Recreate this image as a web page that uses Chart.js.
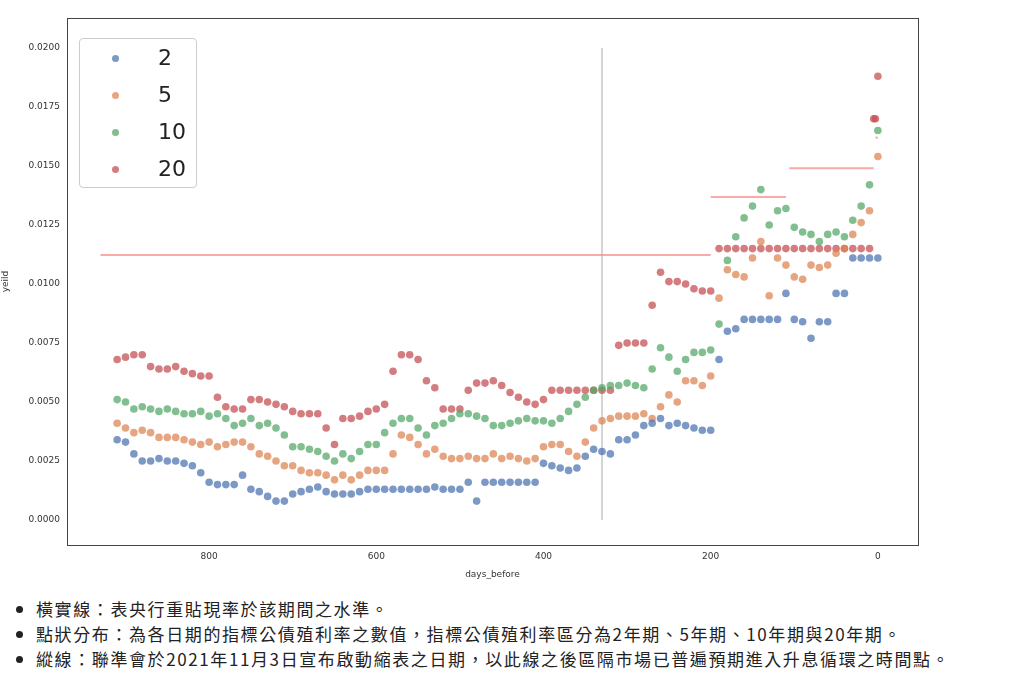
<!DOCTYPE html>
<html>
<head>
<meta charset="utf-8">
<script src="https://cdn.jsdelivr.net/npm/chart.js@4.4.0/dist/chart.umd.min.js"></script>
<style>
  body { margin: 0; background: #fff; font-family: "Noto Sans CJK TC", "Noto Sans", sans-serif; }
  #wrap { position: relative; width: 1024px; height: 580px; }
  #legend { position: absolute; left: 79px; top: 38px; width: 116px; height: 148px; border: 1px solid #ccc; border-radius: 4px; background: #fff; font-family: "DejaVu Sans", sans-serif; font-size: 22px; color: #222; }
  #legend div { height: 36px; line-height: 36px; padding-left: 30px; position: relative; margin-top: 1px; }
  #legend span { position: absolute; left: 32px; top: 15px; width: 7px; height: 7px; border-radius: 50%; }
  #legend b { font-weight: normal; margin-left: 48px; }
  ul { margin: 16px 0 0 0; padding-left: 36px; font-size: 17px; letter-spacing: 1.6px; color: #222; line-height: 25px; }
</style>
</head>
<body>
<div id="wrap">
  <canvas id="c" width="1024" height="580"></canvas>
  <div id="legend"></div>
</div>
<ul>
  <li>橫實線：表央行重貼現率於該期間之水準。</li>
  <li>點狀分布：為各日期的指標公債殖利率之數值，指標公債殖利率區分為2年期、5年期、10年期與20年期。</li>
  <li>縱線：聯準會於2021年11月3日宣布啟動縮表之日期，以此線之後區隔市場已普遍預期進入升息循環之時間點。</li>
</ul>
<script>
// days_before, from 910 down to 0 in steps of 10
const days = [910,900,890,880,870,860,850,840,830,820,810,800,790,780,770,760,750,740,730,720,710,700,690,680,670,660,650,640,630,620,610,600,590,580,570,560,550,540,530,520,510,500,490,480,470,460,450,440,430,420,410,400,390,380,370,360,350,340,330,320,310,300,290,280,270,260,250,240,230,220,210,200,190,180,170,160,150,140,130,120,110,100,90,80,70,60,50,40,30,20,10,0];

const y2 = [.0034,.0033,.0028,.0025,.0025,.0026,.0025,.0025,.0024,.0023,.0020,.0016,.0015,.0015,.0015,.0019,.0013,.0012,.0010,.0008,.0008,.0011,.0012,.0013,.0014,.0012,.0011,.0011,.0011,.0012,.0013,.0013,.0013,.0013,.0013,.0013,.0013,.0013,.0014,.0013,.0013,.0013,.0016,.0008,.0016,.0016,.0016,.0016,.0016,.0016,.0016,.0024,.0023,.0022,.0021,.0022,.0027,.0030,.0029,.0028,.0034,.0034,.0036,.0040,.0041,.0043,.0040,.0041,.0040,.0039,.0038,.0038,.0068,.0080,.0081,.0085,.0085,.0085,.0085,.0085,.0096,.0085,.0084,.0077,.0084,.0084,.0096,.0096,.0111,.0111,.0111,.0111];
const y5 = [.0041,.0039,.0037,.0038,.0037,.0035,.0035,.0035,.0034,.0033,.0032,.0033,.0031,.0032,.0033,.0033,.0031,.0028,.0027,.0025,.0023,.0023,.0021,.0020,.0020,.0019,.0017,.0019,.0017,.0019,.0021,.0021,.0021,.0028,.0036,.0035,.0032,.0028,.0030,.0027,.0026,.0026,.0027,.0026,.0026,.0028,.0026,.0027,.0026,.0025,.0026,.0031,.0032,.0032,.0029,.0027,.0033,.0039,.0042,.0043,.0044,.0044,.0044,.0045,.0043,.0048,.0053,.0050,.0059,.0059,.0057,.0061,.0094,.0106,.0104,.0103,.0111,.0118,.0095,.0111,.0108,.0103,.0102,.0108,.0107,.0108,.0113,.0115,.0121,.0126,.0131,.0154];
const y10 = [.0051,.0050,.0047,.0048,.0047,.0046,.0047,.0046,.0045,.0045,.0046,.0044,.0045,.0043,.0040,.0041,.0043,.0040,.0041,.0039,.0036,.0031,.0031,.0030,.0029,.0027,.0025,.0028,.0026,.0029,.0032,.0032,.0037,.0041,.0043,.0043,.0039,.0036,.0040,.0041,.0043,.0045,.0045,.0044,.0043,.0040,.0040,.0041,.0042,.0043,.0042,.0042,.0041,.0043,.0046,.0049,.0052,.0055,.0056,.0057,.0057,.0058,.0057,.0056,.0064,.0073,.0069,.0063,.0068,.0071,.0071,.0072,.0083,.0110,.0120,.0128,.0133,.0140,.0125,.0131,.0132,.0124,.0122,.0121,.0118,.0121,.0122,.0120,.0127,.0133,.0142,.0165];
const y20 = [.0068,.0069,.0070,.0070,.0065,.0064,.0064,.0065,.0063,.0062,.0061,.0061,.0052,.0048,.0047,.0047,.0051,.0051,.0050,.0049,.0048,.0046,.0045,.0045,.0045,.0039,.0032,.0043,.0043,.0044,.0046,.0047,.0049,.0063,.0070,.0070,.0068,.0059,.0056,.0047,.0047,.0047,.0055,.0058,.0058,.0059,.0057,.0054,.0052,.0050,.0049,.0051,.0055,.0055,.0055,.0055,.0055,.0055,.0055,.0055,.0074,.0075,.0075,.0075,.0091,.0105,.0101,.0101,.0100,.0098,.0097,.0097,.0115,.0115,.0115,.0115,.0115,.0115,.0115,.0115,.0115,.0115,.0115,.0115,.0115,.0115,.0115,.0115,.0115,.0115,.0115,.0188];
const y20extraDays = [5, 3];
const y20extra = [.0170, .0170];

// discount rate steps: [from day, to day, rate]
const rateFrom = [930, 200, 106, 3];
const rateTo = [200, 110, 5, 0];
const rateVal = [.01123, .01369, .0149, .0162];
const fomcDay = 330;

const names = ['2', '5', '10', '20'];
const colors = ['#4c72b0', '#dd8452', '#55a868', '#c44e52'];
const alpha = c => c + 'bb';

const pts = ys => days.map((d, i) => ({ x: d, y: ys[i] }));
const datasets = [y2, y5, y10, y20].map((ys, i) => ({
  label: names[i], type: 'scatter', data: pts(ys),
  backgroundColor: alpha(colors[i]), borderWidth: 0, pointRadius: 3.8, order: 1
}));
datasets[3].data.push(...y20extraDays.map((d, i) => ({ x: d, y: y20extra[i] })));

rateFrom.forEach((f, i) => datasets.push({
  type: 'line', data: [{ x: f, y: rateVal[i] }, { x: rateTo[i], y: rateVal[i] }],
  borderColor: 'rgba(250,140,140,0.75)', borderWidth: 2, pointRadius: 0, order: 2
}));
datasets.push({
  type: 'line', data: [{ x: fomcDay, y: 0 }, { x: fomcDay, y: 0.02 }],
  borderColor: '#aaa', borderWidth: 1, pointRadius: 0, order: 3
});

const boxPlugin = {
  id: 'box',
  afterDraw(chart) {
    const a = chart.chartArea, ctx = chart.ctx;
    ctx.save(); ctx.strokeStyle = '#444'; ctx.lineWidth = 1;
    ctx.strokeRect(a.left + 0.5, a.top + 0.5, a.width, a.height);
    ctx.restore();
  }
};

const tickFont = { family: 'DejaVu Sans', size: 9 };
new Chart(document.getElementById('c'), {
  data: { datasets },
  plugins: [boxPlugin],
  options: {
    responsive: false, animation: false,
    layout: { padding: { top: 18, right: 106, left: 0, bottom: 0 } },
    plugins: { legend: { display: false }, tooltip: { enabled: false } },
    scales: {
      x: {
        type: 'linear', reverse: true, min: -48, max: 970,
        afterBuildTicks: s => { s.ticks = [800, 600, 400, 200, 0].map(v => ({ value: v })); },
        grid: { display: false, drawTicks: true, tickLength: 4 },
        ticks: { color: '#333', font: tickFont, padding: 2 },
        title: { display: true, text: 'days_before', color: '#333', font: tickFont, padding: 0 },
        afterFit: s => { s.height = 35; }
      },
      y: {
        min: -0.00106, max: 0.02127,
        afterBuildTicks: s => { s.ticks = [0,.0025,.005,.0075,.01,.0125,.015,.0175,.02].map(v => ({ value: v })); },
        grid: { display: false, tickLength: 4 },
        ticks: { color: '#333', font: tickFont, callback: v => v.toFixed(4) },
        title: { display: true, text: 'yeild', color: '#333', font: tickFont, padding: 0 },
        afterFit: s => { s.width = 67; }
      }
    }
  }
});

document.getElementById('legend').innerHTML = names.map((n, i) =>
  `<div><span style="background:${alpha(colors[i])}"></span><b>${n}</b></div>`).join('');
</script>
</body>
</html>
